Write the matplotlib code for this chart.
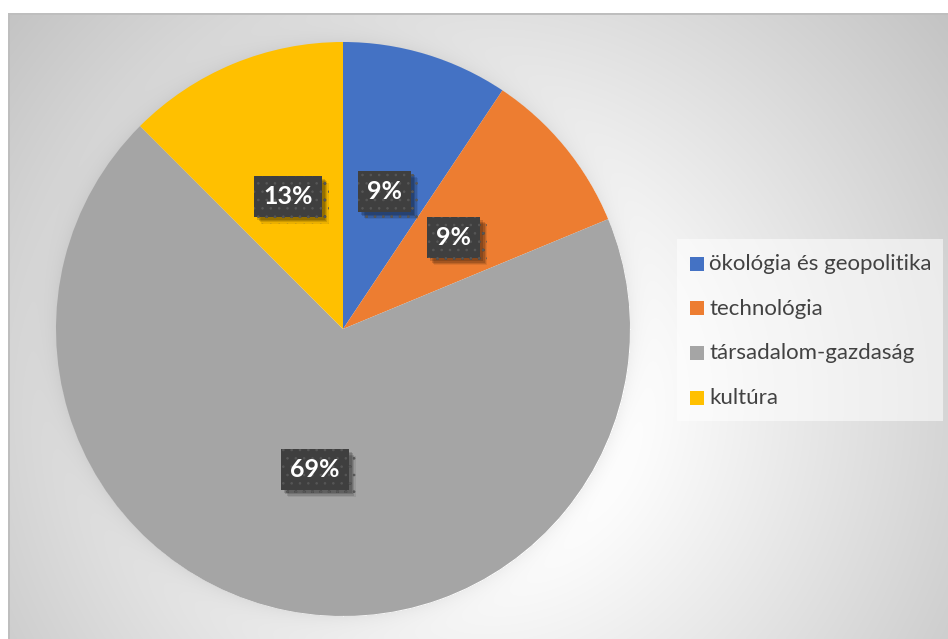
import math
import numpy as np
import matplotlib
matplotlib.use("Agg")
import matplotlib.pyplot as plt
from matplotlib.patches import Rectangle
import matplotlib.patheffects as pe

# Topic counts and their display names
categories = ["ökológia és geopolitika", "technológia", "társadalom-gazdaság", "kultúra"]
counts = [3, 3, 22, 4]
colors = ["#4472C4", "#ED7D31", "#A5A5A5", "#FFC000"]

W, H = 948, 639
plt.rcParams["font.family"] = ["Lato", "DejaVu Sans"]
plt.rcParams["hatch.linewidth"] = 0.6

fig = plt.figure(figsize=(W / 100, H / 100), dpi=100)

# ---- chart-area background: soft radial gradient with a faint shadow round the pie
yy, xx = np.mgrid[0:H, 0:W].astype(float)
gcx, gcy = 478.0, 400.0
dist = np.hypot(xx - gcx, yy - gcy)
g = 255.0 - 0.13 * np.clip(dist - 150.0, 0, None)
pcx, pcy, pr = 343.0, 329.0, 287.0
edge = np.hypot(xx - pcx, yy - pcy) - pr
g -= np.where(edge > 0, 14.0 * np.exp(-np.clip(edge, 0, None) / 10.0), 0.0)
g = np.clip(g, 0, 255)
outside = (xx < 8) | (yy < 13)
g[outside] = 255
border = ((xx >= 8) & (xx < 10) & (yy >= 13)) | ((yy >= 13) & (yy < 15) & (xx >= 8))
g[border] = 190
img = np.dstack([g, g, g]) / 255.0

bg = fig.add_axes([0, 0, 1, 1], zorder=0)
bg.imshow(img, aspect="auto", interpolation="nearest", extent=[0, W, H, 0])
bg.set_xlim(0, W)
bg.set_ylim(H, 0)
bg.axis("off")


def pct_label(p):
    # round half up, as spreadsheet percentages do
    return f"{math.floor(p + 0.5 + 1e-9):d}%"


# ---- pie
ax = fig.add_axes([(pcx - pr) / W, (H - pcy - pr) / H, 2 * pr / W, 2 * pr / H], zorder=1)
wedges, _, autotexts = ax.pie(
    counts,
    colors=colors,
    startangle=90,
    counterclock=False,
    autopct=pct_label,
    pctdistance=0.5,
    wedgeprops=dict(linewidth=0),
    textprops=dict(color="white", fontsize=18, fontweight="bold"),
)
ax.set_xlim(-1, 1)
ax.set_ylim(-1, 1)
ax.set_aspect("auto")
ax.axis("off")

shadow = [pe.SimplePatchShadow(offset=(o, -o), shadow_rgbFace="black", alpha=a)
          for o, a in ((5, 0.08), (4, 0.12), (3, 0.15), (2, 0.15))]
for t in autotexts:
    t.set_bbox(dict(boxstyle="square,pad=0.36", facecolor="#3f3f3f",
                    edgecolor="#575757", linewidth=0, hatch=".."))
    t.get_bbox_patch().set_path_effects(shadow + [pe.Normal()])

# ---- legend drawn in figure pixel positions
def fx(px):
    return px / W

def fy(py):
    return 1 - py / H

lx, ltop, lw, lh = 677, 239, 266, 182
fig.add_artist(Rectangle((fx(lx), fy(ltop + lh)), lw / W, lh / H,
                         transform=fig.transFigure, facecolor="white",
                         alpha=0.55, edgecolor="none", zorder=2))
row0, step = 263.5, 44.7
for i, (name, col) in enumerate(zip(categories, colors)):
    cy = row0 + i * step
    fig.add_artist(Rectangle((fx(690), fy(cy + 7)), 14 / W, 14 / H,
                             transform=fig.transFigure, facecolor=col,
                             edgecolor="none", zorder=3))
    fig.text(fx(709), fy(cy + 6.5), name, fontsize=16, color="#424242",
             va="baseline", ha="left", zorder=3)

fig.savefig("out.png", dpi=100)
